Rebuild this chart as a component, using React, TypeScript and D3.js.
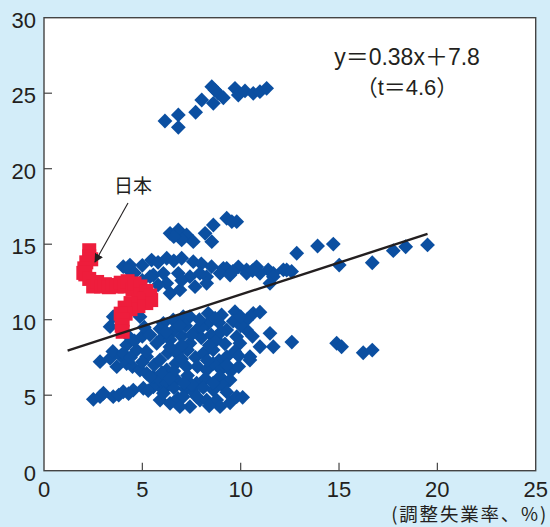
import React from "react";
import * as d3 from "d3";

// ---- data ----
const xTicks = [0, 5, 10, 15, 20, 25];
const yTicks = [0, 5, 10, 15, 20, 25, 30];

const upperCluster: [number, number][] = [
  [6.15, 23.16], [6.83, 23.56], [6.83, 22.74], [7.71, 23.74], [8.02, 24.55], [8.61, 24.33],
  [8.53, 25.43], [8.69, 25.21], [8.86, 24.99], [9.12, 24.7], [9.71, 25.32], [9.88, 24.88],
  [10.22, 25.15], [10.64, 24.99], [10.98, 25.1], [11.32, 25.32],
];

const middleCluster: [number, number][] = [
  [6.41, 15.72], [6.83, 15.94], [7.25, 15.61], [7.0, 15.28], [7.59, 15.17], [8.19, 15.72],
  [8.61, 16.27], [8.53, 15.17], [9.29, 16.72], [9.8, 16.49], [6.6, 15.5], [9.55, 16.5],
];

const band: [number, number][] = [
  [4.03, 13.51], [4.37, 13.62], [4.29, 13.3], [5.0, 13.6], [5.47, 13.95], [5.8, 13.8],
  [6.24, 14.07], [6.6, 13.9], [7.0, 14.07], [7.59, 13.84], [8.0, 13.7], [8.52, 13.51],
  [9.12, 13.4], [9.29, 13.4], [9.88, 13.5], [10.3, 13.3], [10.81, 13.5], [11.4, 13.3],
  [12.17, 13.3], [12.85, 14.4],
  [5.56, 12.96], [6.07, 13.07], [6.83, 13.07], [7.42, 12.85], [7.93, 13.07], [8.27, 12.85],
  [8.95, 13.07], [9.46, 12.96], [10.3, 13.07], [10.98, 13.07], [11.66, 13.07], [12.34, 13.29],
  [12.59, 13.2], [11.66, 12.85], [11.49, 12.41],
  [5.39, 12.85], [6.24, 12.41], [7.68, 12.19], [8.27, 12.41], [6.41, 11.75], [6.91, 11.97],
  [7.0, 12.6], [5.0, 12.6], [5.8, 12.3], [4.6, 13.1], [9.6, 13.2], [10.6, 13.25],
];

const rightPoints: [number, number][] = [
  [13.91, 14.88], [14.71, 15.01], [15.01, 13.62], [16.69, 13.77], [17.76, 14.57],
  [18.39, 14.83], [19.5, 14.95],
  [11.49, 9.1], [11.66, 8.21], [12.6, 8.52], [14.88, 8.44], [15.13, 8.21], [16.23, 7.81],
  [16.69, 7.99],
];

const lowerLeft: [number, number][] = [
  [2.51, 4.73], [2.85, 4.9], [3.02, 5.13], [3.52, 4.9], [3.8, 5.0], [4.03, 5.23], [4.54, 5.34],
  [5.05, 5.46], [5.56, 5.56], [5.9, 4.68], [6.07, 5.34], [4.3, 5.1], [5.3, 5.3],
  [2.85, 7.22], [3.36, 7.44], [3.7, 6.89], [3.9, 7.6], [4.2, 7.1], [4.5, 6.9], [4.88, 6.67],
  [5.22, 6.45], [5.56, 6.23], [5.9, 6.01], [6.24, 5.79], [4.2, 8.32], [4.71, 7.99], [5.22, 7.55],
  [3.5, 7.9], [4.03, 7.77], [3.36, 9.54], [3.52, 10.2], [4.88, 10.2], [4.3, 8.9], [4.6, 8.6],
  [5.0, 7.2], [4.4, 7.5], [5.0, 8.9], [5.1, 9.5], [5.6, 7.0],
];

const lowerBlob: [number, number][] = [
  [6.07, 9.76], [6.57, 9.98], [7.08, 10.2], [7.42, 10.2], [8.35, 10.42], [9.03, 10.31],
  [9.71, 10.53], [10.64, 10.42], [10.98, 10.5],
  [5.9, 9.4], [6.6, 9.3], [7.2, 9.6], [7.76, 9.32], [8.3, 9.7], [8.9, 9.8], [9.29, 9.32],
  [9.62, 9.9], [10.3, 9.32], [10.3, 9.98],
  [5.39, 9.0], [5.73, 8.44], [6.07, 8.87], [6.41, 8.66], [7.0, 8.9], [7.42, 8.44], [8.0, 8.8],
  [8.5, 9.0], [8.78, 8.66], [9.2, 8.4], [9.8, 8.87], [9.96, 8.44], [10.98, 8.21], [10.6, 8.9],
  [5.2, 7.9], [5.9, 7.33], [6.3, 7.8], [6.75, 7.77], [7.3, 8.0], [7.7, 7.5], [8.1, 7.77],
  [8.6, 8.0], [8.9, 7.3], [9.29, 7.55], [9.7, 7.9], [10.47, 7.33], [10.47, 7.55],
  [6.24, 6.67], [6.7, 7.1], [7.25, 6.89], [7.8, 6.9], [8.27, 6.67], [8.6, 7.1], [9.0, 6.7],
  [9.5, 6.6], [9.9, 6.9],
  [5.39, 6.23], [6.75, 6.01], [7.3, 6.3], [7.76, 5.79], [8.2, 6.1], [8.95, 6.23], [9.46, 6.01],
  [6.07, 5.13], [6.6, 5.5], [7.2, 5.4], [7.6, 5.2], [8.1, 5.5], [8.61, 5.34], [9.1, 5.6],
  [6.41, 4.46], [6.8, 4.8], [7.08, 4.9], [7.42, 4.24], [7.93, 4.68], [8.27, 4.68], [8.78, 4.68],
  [8.95, 4.24], [9.46, 4.5], [9.8, 4.9], [10.1, 4.86], [6.91, 4.24], [7.76, 4.9],
  [6.4, 8.2], [7.0, 8.3], [8.4, 8.3], [9.0, 9.2], [6.2, 9.2], [7.5, 9.0], [8.0, 9.5],
  [6.0, 6.5], [7.0, 7.4], [8.3, 7.3], [9.3, 7.0], [9.9, 7.6], [10.0, 9.6], [6.9, 9.6],
  [7.9, 10.0], [8.7, 10.1], [10.0, 10.2], [6.6, 6.6], [7.5, 5.7], [8.6, 5.8], [9.3, 5.2],
  [8.4, 4.3], [7.1, 5.8], [6.4, 6.1],
];

const japan: [number, number][] = [
  [2.3, 14.6], [2.3, 14.2], [2.4, 14.0], [2.15, 13.8], [2.05, 13.4], [2.1, 13.0], [2.0, 13.1],
  [2.3, 12.7], [2.5, 12.2], [2.7, 12.5], [2.9, 12.2], [3.1, 12.35], [3.3, 12.15], [3.5, 12.3],
  [3.7, 12.2], [3.9, 12.45], [4.1, 12.2], [4.25, 12.55], [4.5, 12.0], [4.6, 12.4], [4.9, 12.2],
  [4.9, 11.7], [5.2, 11.9], [5.1, 11.4], [5.4, 11.6], [5.45, 11.3], [5.2, 11.1], [4.8, 11.3],
  [4.8, 10.9], [4.4, 11.1], [4.4, 10.7], [4.1, 10.8], [4.15, 10.4], [3.9, 10.4], [4.0, 10.0],
  [3.95, 9.6], [4.0, 9.2],
];

const fitX = [1.2, 19.5];
const fitY = [7.95, 15.68];

const equationText = "y＝0.38x＋7.8";
const tText = "（t＝4.6）";
const japanLabel = "日本";
const xAxisTitle = "(調整失業率、%)";

// ---- layout ----
const W = 550;
const H = 527;
const left = 44;
const right = 535.7;
const top = 17.7;
const bottom = 470.7;

const BLUE = "#0b4fa1";
const RED = "#ee1d3c";
const INK = "#231f20";
const BG = "#d3edf9";

export default function App() {
  const x = d3.scaleLinear().domain([0, 25]).range([left, right]);
  const y = d3.scaleLinear().domain([0, 30]).range([bottom, top]);
  const r = 7.4;
  const diamond = `M0,${-r}L${r},0L0,${r}L${-r},0Z`;
  const sq = 14;
  const blue = [...lowerLeft, ...lowerBlob, ...band, ...middleCluster, ...upperCluster, ...rightPoints];
  const fitLine = d3.line<number>().x((d) => x(d)).y((_, i) => y(fitY[i]));
  const numFont = "'Liberation Sans', Arial, sans-serif";
  const cjkFont = "'Liberation Sans', 'Noto Sans CJK JP', sans-serif";

  return (
    <>
      <style>{`body{margin:0}`}</style>
      <svg width={W} height={H} style={{ display: "block" }}>
        <rect x={0} y={0} width={W} height={H} fill={BG} />
        <rect x={left} y={top} width={right - left} height={bottom - top} fill="#fff" />
        {blue.map((d, i) => (
          <path key={"b" + i} d={diamond} transform={`translate(${x(d[0])},${y(d[1])})`} fill={BLUE} />
        ))}
        {japan.map((d, i) => (
          <rect key={"j" + i} x={x(d[0]) - sq / 2} y={y(d[1]) - sq / 2} width={sq} height={sq} fill={RED} />
        ))}
        <path d={fitLine(fitX) || ""} stroke={INK} strokeWidth={2.4} fill="none" />
        <rect x={left} y={top} width={right - left} height={bottom - top} fill="none" stroke="#444" strokeWidth={1.4} />
        {yTicks.slice(1, -1).map((t) => (
          <line key={"yt" + t} x1={left} x2={left + 8} y1={y(t)} y2={y(t)} stroke="#444" strokeWidth={1.2} />
        ))}
        {xTicks.slice(1, -1).map((t) => (
          <line key={"xt" + t} x1={x(t)} x2={x(t)} y1={bottom} y2={bottom - 8} stroke="#444" strokeWidth={1.2} />
        ))}
        {yTicks.map((t) => (
          <text key={"yl" + t} x={left - 8} y={y(t) + 10} textAnchor="end" fontFamily={numFont} fontSize={22} fill={INK}>
            {t}
          </text>
        ))}
        {xTicks.map((t) => (
          <text key={"xl" + t} x={x(t)} y={497} textAnchor="middle" fontFamily={numFont} fontSize={22} fill={INK}>
            {t}
          </text>
        ))}
        <text x={548} y={521} textAnchor="end" fontFamily="'Noto Sans CJK JP', sans-serif" fontSize={18.5} letterSpacing={1.8} fill={INK}>
          {xAxisTitle}
        </text>
        <text x={407} y={65} textAnchor="middle" fontFamily={cjkFont} fontSize={23} fill={INK}>
          {equationText}
        </text>
        <text x={407} y={95} textAnchor="middle" fontFamily={cjkFont} fontSize={22} fill={INK}>
          {tText}
        </text>
        <text x={133} y={193} textAnchor="middle" fontFamily="'Noto Sans CJK JP', sans-serif" fontSize={19} fill={INK}>
          {japanLabel}
        </text>
        <defs>
          <marker id="arrow" viewBox="0 0 10 10" refX={9} refY={5} markerWidth={9} markerHeight={9} orient="auto" markerUnits="userSpaceOnUse">
            <path d="M0,0L10,5L0,10Z" fill={INK} />
          </marker>
        </defs>
        <line x1={128} y1={203} x2={95} y2={262} stroke={INK} strokeWidth={1.1} markerEnd="url(#arrow)" />
      </svg>
    </>
  );
}
